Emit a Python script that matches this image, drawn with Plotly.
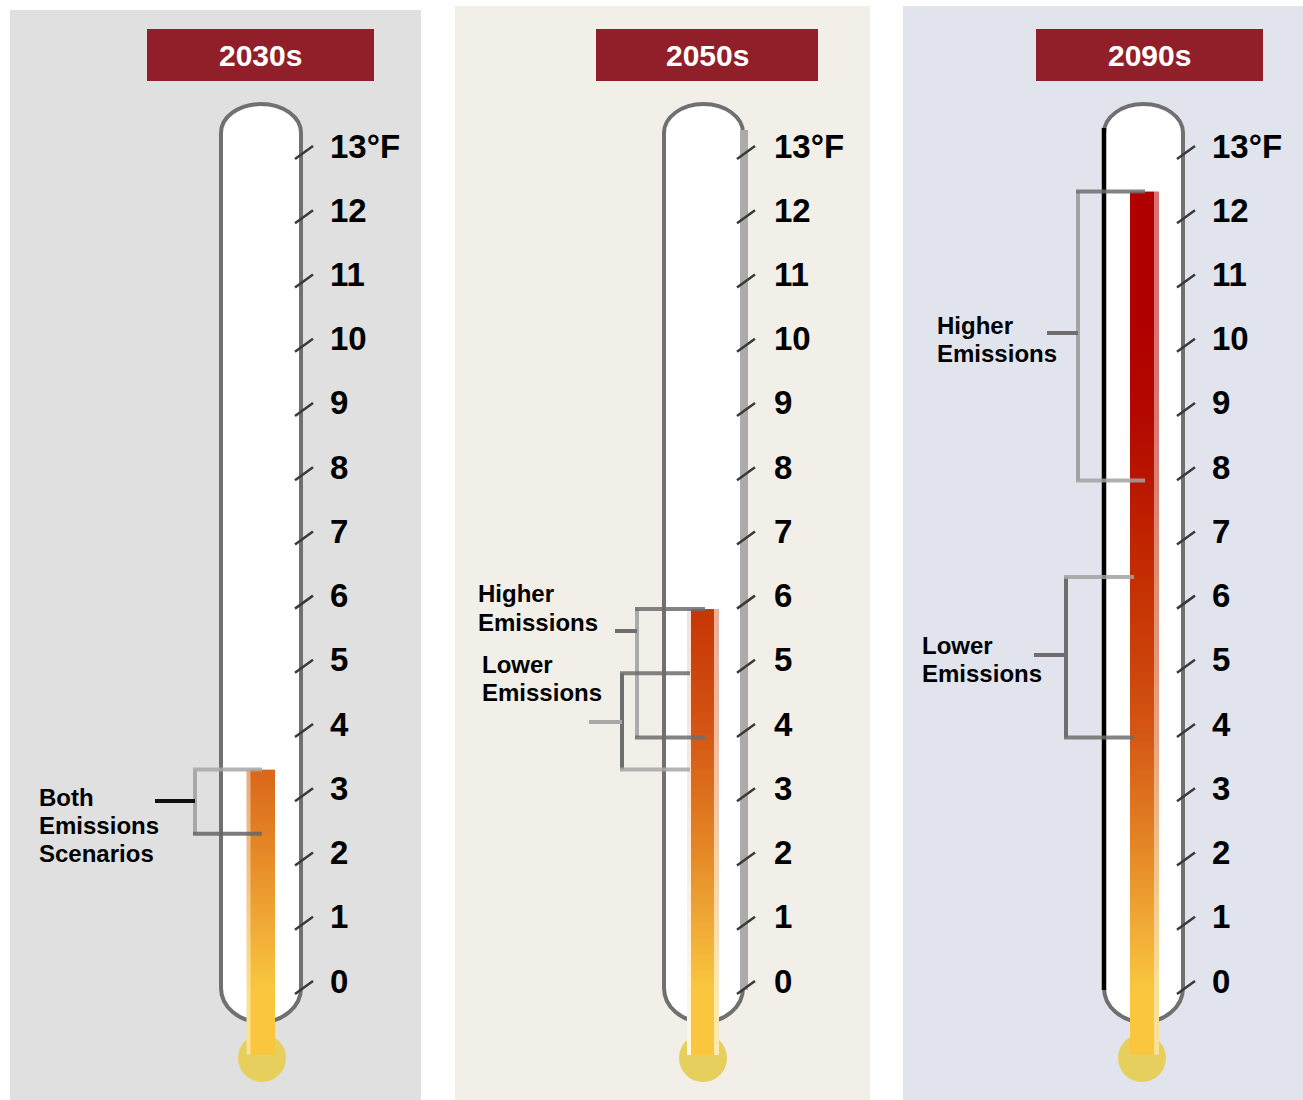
import numpy as np
import plotly.graph_objects as go

# ---------------- data ----------------
periods = ["2030s", "2050s", "2090s"]
tick_values = list(range(14))
tick_labels = [str(v) for v in range(13)] + ["13°F"]

# projected warming ranges (°F) for each emissions scenario
both_2030s = [2.4, 3.4]
lower_2050s = [3.4, 4.9]
higher_2050s = [3.9, 5.9]
lower_2090s = [3.9, 6.4]
higher_2090s = [7.9, 12.4]

# the mercury column rises to the top of the highest range in each period
column_top = [max(both_2030s), max(lower_2050s + higher_2050s), max(lower_2090s + higher_2090s)]

# ---------------- geometry helpers ----------------
W, H = 1303, 1100
ZERO_ROW = 988          # screen row of the 0° tick
PX_PER_DEG = 64.23      # screen pixels per degree


def deg(row):
    """Screen row -> temperature units on the y axis."""
    return (ZERO_ROW - row) / PX_PER_DEG


PX = 1.0 / PX_PER_DEG   # one pixel in y-axis units
BULB_DEPTH = deg(1055)  # where the column ends inside the bulb


def hexrgb(h):
    h = h.lstrip("#")
    return tuple(int(h[i:i + 2], 16) for i in (0, 2, 4))


def blend_white(h, f):
    r, g, b = hexrgb(h)
    return "rgb(%d,%d,%d)" % tuple(round(c * (1 - f) + 255 * f) for c in (r, g, b))


# colour of the mercury by temperature
stops = [(0.0, "#f9c63e"), (1.0, "#f0aa36"), (2.0, "#e68c28"), (3.0, "#dd711d"),
         (4.0, "#d45614"), (5.0, "#cc440b"), (6.0, "#c63404"), (7.0, "#c02400"),
         (8.0, "#b81500"), (9.0, "#b30700"), (10.5, "#b00000"), (13.0, "#b00000")]
ZMAX = 13.0
mercury_scale = [[t / ZMAX, c] for t, c in stops]


def light_scale(f):
    return [[t / ZMAX, blend_white(c, f)] for t, c in stops]


panels = [
    dict(bg=(10, 421, 10, "#e0e0e0"), title=(147, 374), tube=(221, 301),
         column=(250, 275), glints=[(246.5, 250, 0.45)], bulb=262, label_x=328),
    dict(bg=(455, 870, 6, "#f2eee8"), title=(596, 818), tube=(664, 743),
         column=(691, 714), glints=[(687, 691, 0.85), (714, 719, 0.6)], bulb=703, label_x=772),
    dict(bg=(903, 1303, 6, "#e1e4ec"), title=(1036, 1263), tube=(1104, 1183),
         column=(1130, 1154), glints=[(1154, 1158.5, 0.45)], bulb=1142, label_x=1210),
]

brackets = [
    dict(panel=0, rng=both_2030s, lines=["Both", "Emissions", "Scenarios"], text_x=38,
         text_rows=[797, 825, 853], vx=195, hx_end=262, ptr=(155, 801),
         colors=("#a8a8a8", "#a8a8a8", "#666666", "#111111")),
    dict(panel=1, rng=higher_2050s, lines=["Higher", "Emissions"], text_x=477,
         text_rows=[593, 622], vx=637, hx_end=705, ptr=(615, 631),
         colors=("#ababab", "#6e6e6e", "#6e6e6e", "#6e6e6e")),
    dict(panel=1, rng=lower_2050s, lines=["Lower", "Emissions"], text_x=481,
         text_rows=[664, 692], vx=622, hx_end=690, ptr=(589, 722),
         colors=("#6e6e6e", "#6e6e6e", "#a8a8a8", "#a8a8a8")),
    dict(panel=2, rng=higher_2090s, lines=["Higher", "Emissions"], text_x=936,
         text_rows=[325, 353], vx=1078, hx_end=1145, ptr=(1047, 333),
         colors=("#a3a3a3", "#6e6e6e", "#a3a3a3", "#6e6e6e")),
    dict(panel=2, rng=lower_2090s, lines=["Lower", "Emissions"], text_x=921,
         text_rows=[645, 673], vx=1066, hx_end=1134, ptr=(1034, 655),
         colors=("#6e6e6e", "#a3a3a3", "#6e6e6e", "#6e6e6e")),
]

FONT = "Liberation Sans, Arial, Helvetica, sans-serif"


def tube_path(xl, xr, top=104, shoulder=133, foot=988, base=1022):
    k = 0.5523
    xm = (xl + xr) / 2
    return (
        f"M {xl},{deg(foot)} L {xl},{deg(shoulder)} "
        f"C {xl},{deg(shoulder - k * (shoulder - top))} {xm - k * (xm - xl)},{deg(top)} {xm},{deg(top)} "
        f"C {xm + k * (xr - xm)},{deg(top)} {xr},{deg(shoulder - k * (shoulder - top))} {xr},{deg(shoulder)} "
        f"L {xr},{deg(foot)} "
        f"C {xr},{deg(foot + k * (base - foot))} {xm + k * (xr - xm)},{deg(base)} {xm},{deg(base)} "
        f"C {xm - k * (xm - xl)},{deg(base)} {xl},{deg(foot + k * (base - foot))} {xl},{deg(foot)} Z"
    )


fig = go.Figure()
shapes = []
annotations = []

for i, p in enumerate(panels):
    x0, x1, top_row, colour = p["bg"]
    shapes.append(dict(type="rect", layer="below", xref="x", yref="y", x0=x0, x1=x1,
                       y0=deg(H), y1=deg(top_row), fillcolor=colour, line_width=0))
    tx0, tx1 = p["title"]
    shapes.append(dict(type="rect", layer="below", xref="x", yref="y", x0=tx0, x1=tx1,
                       y0=deg(81), y1=deg(29), fillcolor="#911f29", line_width=0))
    annotations.append(dict(x=(tx0 + tx1) / 2, y=deg(55), text=periods[i], showarrow=False,
                            xanchor="center", yanchor="middle",
                            font=dict(family=FONT, size=30, color="white", weight="bold")))

    xl, xr = p["tube"]
    shapes.append(dict(type="path", layer="below", xref="x", yref="y", path=tube_path(xl, xr),
                       fillcolor="white", line=dict(color="#707070", width=4)))
    if i == 1:
        shapes.append(dict(type="line", layer="below", xref="x", yref="y", x0=xr + 1, x1=xr + 1,
                           y0=deg(990), y1=deg(130), line=dict(color="#ababab", width=8)))
    if i == 2:
        shapes.append(dict(type="line", layer="below", xref="x", yref="y", x0=xl, x1=xl,
                           y0=deg(990), y1=deg(128), line=dict(color="#000000", width=4.5)))

    bx = p["bulb"]
    shapes.append(dict(type="circle", layer="below", xref="x", yref="y", x0=bx - 24, x1=bx + 24,
                       y0=deg(1082), y1=deg(1034), fillcolor="#e6cf5c", line_width=0))

    # mercury column as a vertical temperature gradient
    top = column_top[i]
    edges = np.append(np.arange(BULB_DEPTH, top, 0.05), top)
    mids = (edges[:-1] + edges[1:]) / 2
    z = [[m] for m in mids]
    cx0, cx1 = p["column"]
    fig.add_trace(go.Heatmap(x=[cx0, cx1], y=edges, z=z, colorscale=mercury_scale, zmin=0, zmax=ZMAX,
                             showscale=False, hoverinfo="skip", zsmooth=False))
    for gx0, gx1, f in p["glints"]:
        fig.add_trace(go.Heatmap(x=[gx0, gx1], y=edges, z=z, colorscale=light_scale(f), zmin=0,
                                 zmax=ZMAX, showscale=False, hoverinfo="skip", zsmooth=False))

    # scale ticks and labels
    for v, lab in zip(tick_values, tick_labels):
        shapes.append(dict(type="line", xref="x", yref="y", x0=xr - 6, x1=xr + 12,
                           y0=v - 6 * PX, y1=v + 7 * PX, line=dict(color="#3a3a3a", width=2.5)))
        annotations.append(dict(x=p["label_x"], y=v, yshift=7, text=lab, showarrow=False,
                                xanchor="left", yanchor="middle",
                                font=dict(family=FONT, size=33, color="black", weight="bold")))

# scenario brackets
for b in brackets:
    lo, hi = b["rng"]
    cv, ct, cb, cp = b["colors"]
    vx = b["vx"]
    shapes.append(dict(type="line", xref="x", yref="y", x0=vx, x1=vx, y0=lo, y1=hi,
                       line=dict(color=cv, width=4)))
    shapes.append(dict(type="line", xref="x", yref="y", x0=vx - 2, x1=b["hx_end"], y0=hi, y1=hi,
                       opacity=0.85, line=dict(color=ct, width=4)))
    shapes.append(dict(type="line", xref="x", yref="y", x0=vx - 2, x1=b["hx_end"], y0=lo, y1=lo,
                       opacity=0.85, line=dict(color=cb, width=4)))
    px0, prow = b["ptr"]
    shapes.append(dict(type="line", xref="x", yref="y", x0=px0, x1=vx, y0=deg(prow), y1=deg(prow),
                       line=dict(color=cp, width=4)))
    for line_text, r in zip(b["lines"], b["text_rows"]):
        annotations.append(dict(x=b["text_x"], y=deg(r), text=line_text, showarrow=False,
                                xanchor="left", yanchor="middle", borderpad=0,
                                font=dict(family=FONT, size=24, color="black", weight="bold")))

fig.update_layout(
    width=W, height=H, margin=dict(l=0, r=0, t=0, b=0, pad=0),
    paper_bgcolor="white", plot_bgcolor="white",
    xaxis=dict(range=[0, W], visible=False, fixedrange=True),
    yaxis=dict(range=[deg(H), deg(0)], visible=False, fixedrange=True),
    shapes=shapes, annotations=annotations, showlegend=False,
)

fig.write_html("out.html")
